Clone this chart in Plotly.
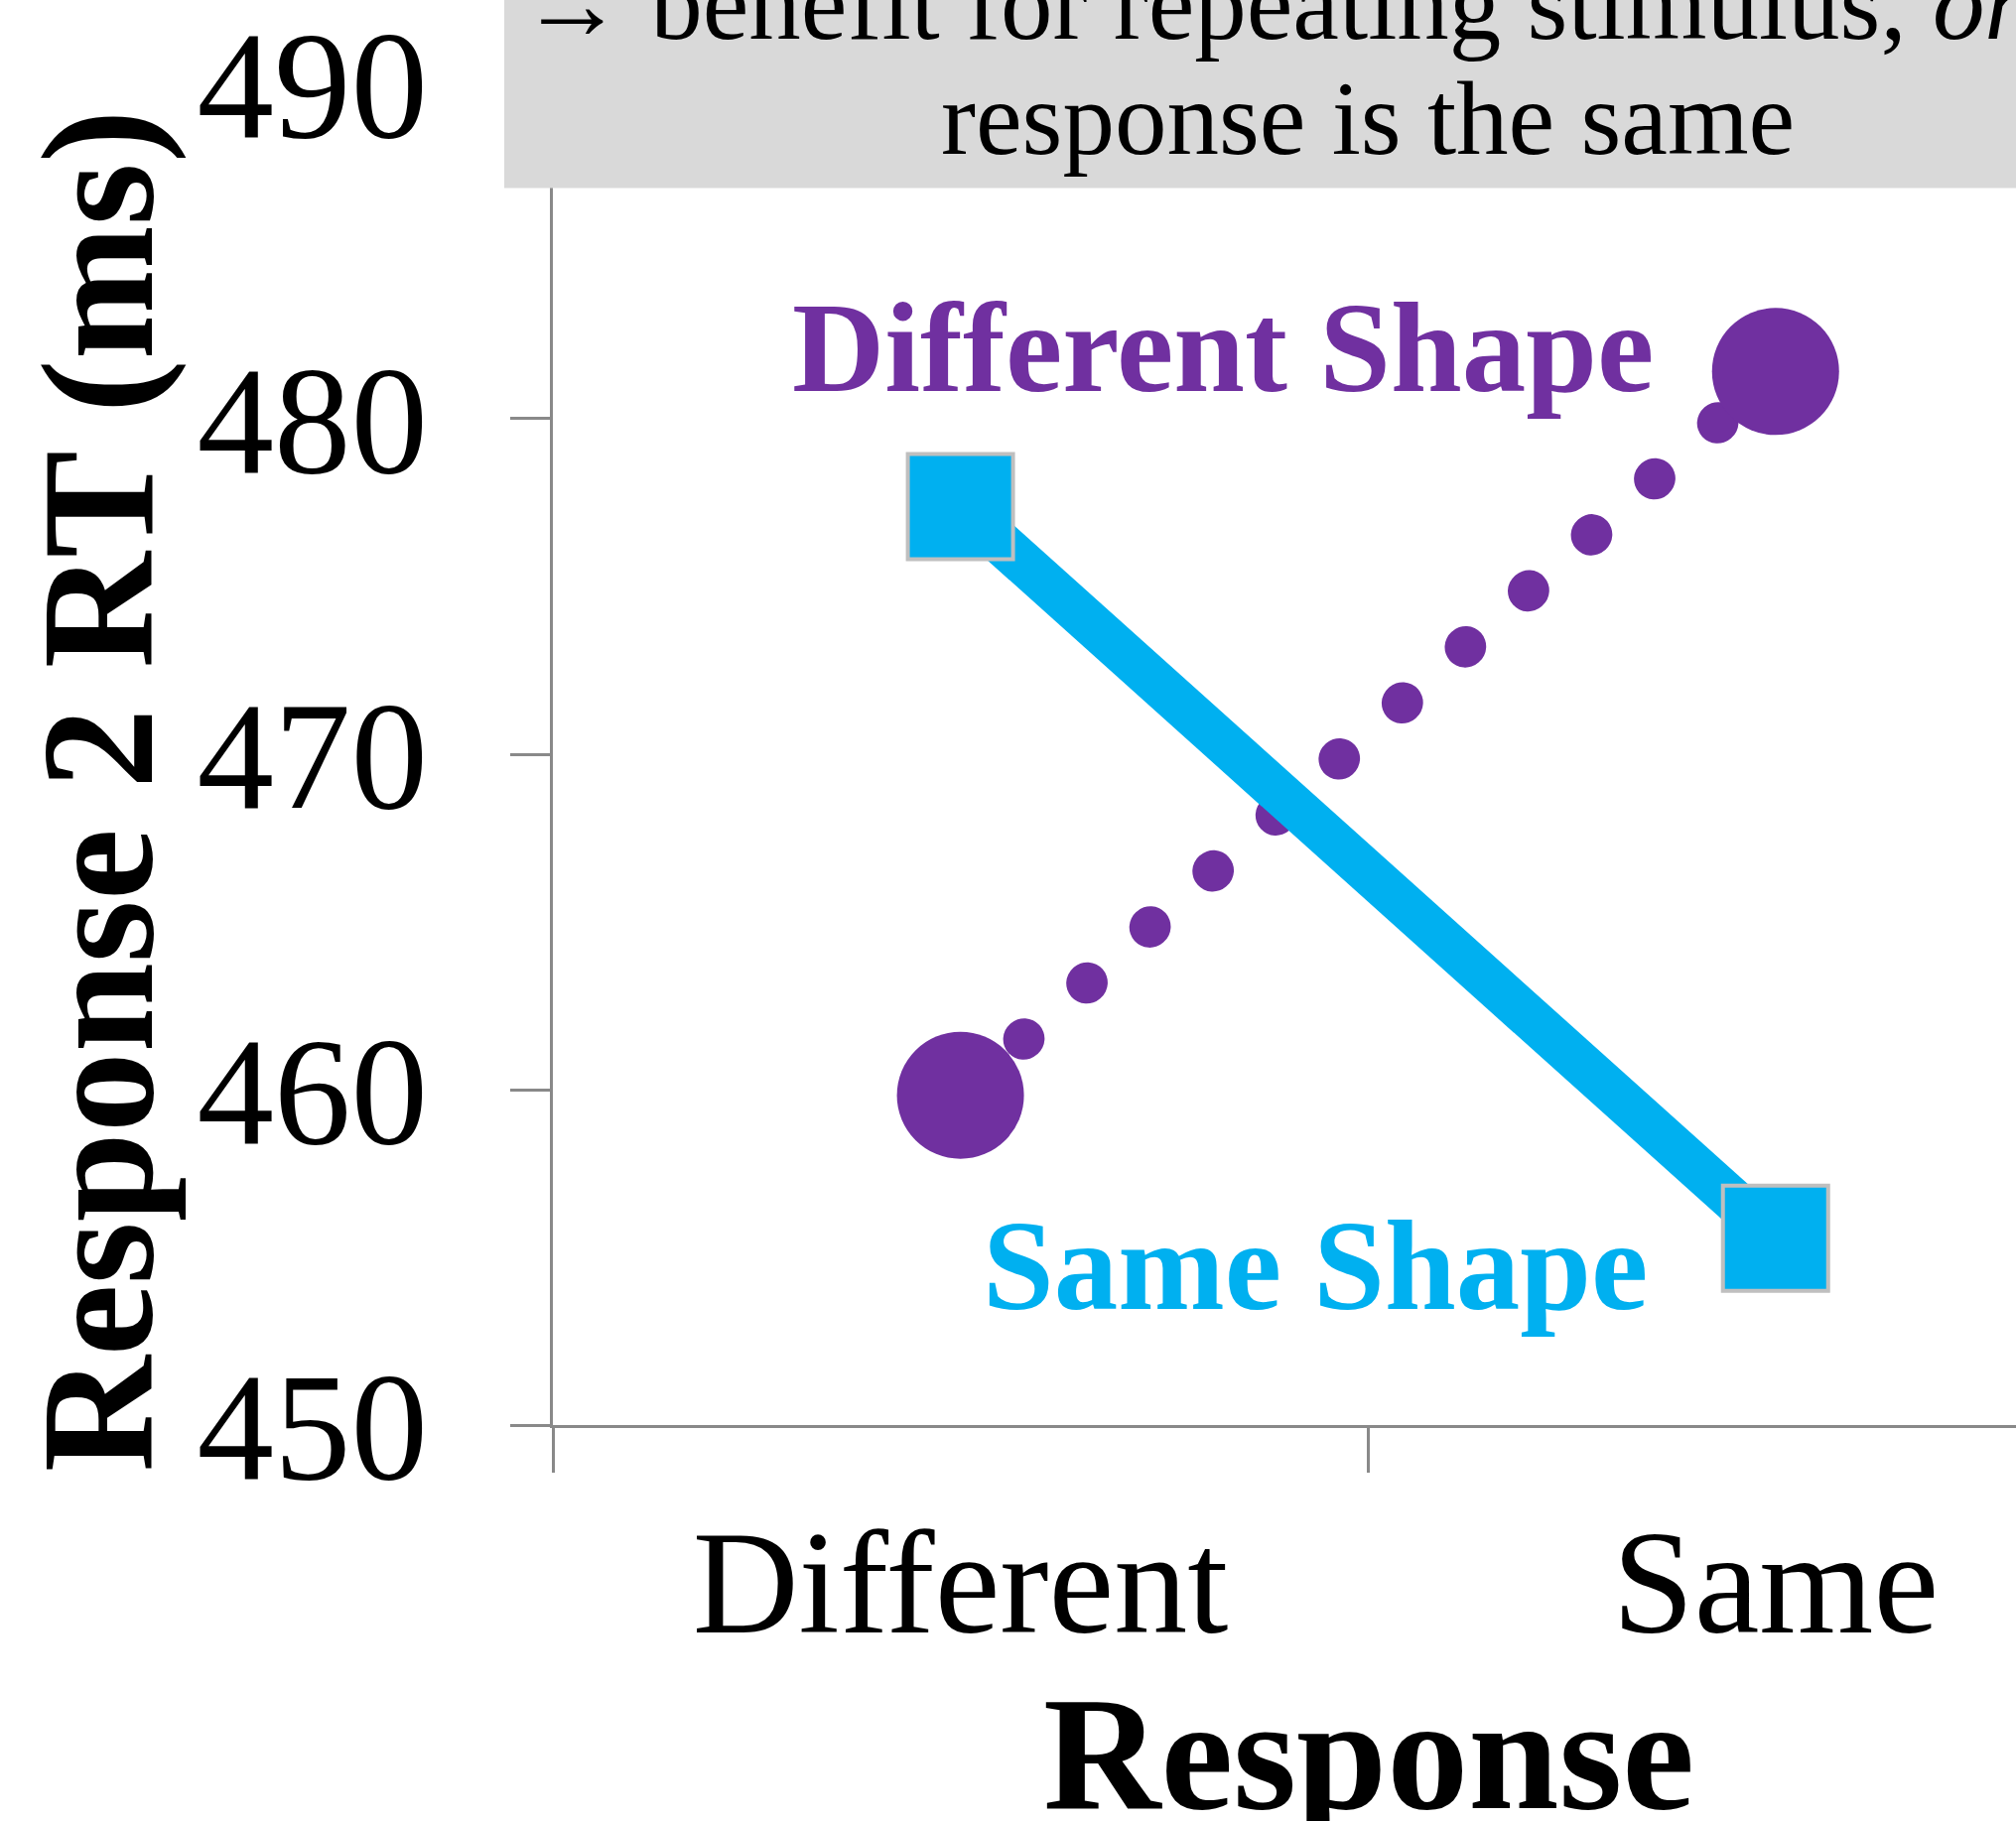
import plotly.graph_objects as go

# ---- data ----
categories = ["Different", "Same"]
different_shape_rt = [459.83, 481.41]
same_shape_rt = [477.38, 455.57]
y_ticks = [450, 460, 470, 480, 490]
series_names = ["Different Shape", "Same Shape"]

PURPLE = "#7030A0"
CYAN = "#00B0F0"
AXIS = "#898989"
FONT = "Liberation Serif"

W, H = 2031, 1835
ML, MR, MT, MB = 557, 0, 20, 399
PW, PH = W - ML - MR, H - MT - MB
px_per_unit = 33.92
y_top = 450 + PH / px_per_unit


def pxx(px):
    return (px - ML) / PW


def pxy(py):
    return (H - MB - py) / PH


fig = go.Figure()
fig.add_trace(go.Scatter(
    x=categories, y=different_shape_rt, name=series_names[0], mode="lines+markers",
    line=dict(color=PURPLE, width=41, dash="1px,84px"),
    marker=dict(symbol="circle", size=128, color=PURPLE, line=dict(width=0)),
    showlegend=False,
))
fig.add_trace(go.Scatter(
    x=categories, y=same_shape_rt, name=series_names[1], mode="lines+markers",
    line=dict(color=CYAN, width=44),
    marker=dict(symbol="square", size=106, color=CYAN, line=dict(width=4, color="#BFBFBF")),
    showlegend=False,
))

fig.update_layout(
    width=W, height=H,
    margin=dict(l=ML, r=MR, t=MT, b=MB, pad=0),
    paper_bgcolor="white", plot_bgcolor="white",
    font=dict(family=FONT, color="black"),
    xaxis=dict(
        type="category", range=[-0.5, 1.295], tickson="boundaries",
        showline=True, linecolor=AXIS, linewidth=3,
        ticks="outside", ticklen=45, tickwidth=3, tickcolor=AXIS,
        tickfont=dict(family=FONT, size=148, color="black"),
        ticklabelstandoff=28,
        showgrid=False, zeroline=False,
    ),
    yaxis=dict(
        range=[450, y_top], tickvals=y_ticks,
        showline=True, linecolor=AXIS, linewidth=3,
        ticks="outside", ticklen=40, tickwidth=3, tickcolor=AXIS,
        tickfont=dict(family=FONT, size=155, color="black"),
        ticklabelstandoff=52, ticklabeloverflow="allow",
        showgrid=False, zeroline=False,
    ),
    shapes=[dict(
        type="rect", xref="paper", yref="paper", layer="above",
        x0=pxx(508), x1=pxx(W + 20), y0=pxy(185), y1=pxy(-20),
        fillcolor="#D9D9D9", line=dict(width=0),
    )],
)

annotations = [
    dict(text="<b>→</b> benefit for repeating stimulus, <i>only if</i>", x=pxx(522), y=pxy(-2),
         xanchor="left", yanchor="middle", font=dict(family=FONT, size=105, color="black")),
    dict(text="response is the same", x=pxx(1378), y=pxy(115),
         xanchor="center", yanchor="middle", font=dict(family=FONT, size=105, color="black")),
    dict(text="<b>Different Shape</b>", x=pxx(1232), y=pxy(347),
         xanchor="center", yanchor="middle", font=dict(family=FONT, size=129, color=PURPLE)),
    dict(text="<b>Same Shape</b>", x=pxx(1325), y=pxy(1275),
         xanchor="center", yanchor="middle", font=dict(family=FONT, size=129, color=CYAN)),
    dict(text="<b>Response</b>", x=pxx(1379), y=pxy(1768),
         xanchor="center", yanchor="middle", font=dict(family=FONT, size=164, color="black")),
    dict(text="<b>Response 2 RT (ms)</b>", x=pxx(98), y=pxy(795), textangle=-90,
         xanchor="center", yanchor="middle", font=dict(family=FONT, size=162, color="black")),
]
for a in annotations:
    a.update(xref="paper", yref="paper", showarrow=False)
fig.update_layout(annotations=annotations)

post = """
document.documentElement.style.margin='0';
document.body.style.margin='0';
document.body.style.overflow='hidden';
window.scrollTo(0,0);
var gd=document.getElementById('{plot_id}');
var tr=gd.querySelectorAll('.scatterlayer .trace')[0];
if(tr){tr.querySelectorAll('path.js-line').forEach(function(p){p.style.strokeLinecap='round';});}
"""
fig.write_html("out.html", post_script=post, config={"displayModeBar": False})
